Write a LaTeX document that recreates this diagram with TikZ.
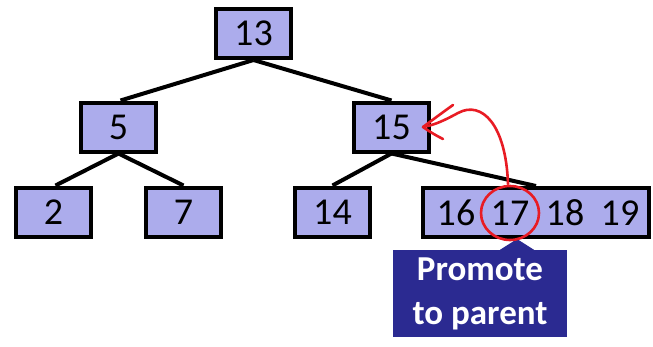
\documentclass[tikz,border=0pt]{standalone}
\usepackage{fontspec}
\setmainfont{Carlito}
\usetikzlibrary{calc}
\definecolor{keyfill}{RGB}{172,172,236}
\definecolor{calloutblue}{RGB}{43,42,145}
\definecolor{markred}{RGB}{232,28,36}
\pgfdeclarelayer{edges}
\pgfsetlayers{edges,main}
\begin{document}
\begin{tikzpicture}[x=1pt,y=-1pt,
  keybox/.style={draw=black,line width=4pt,fill=keyfill,minimum width=75pt,minimum height=49pt,inner sep=0pt,
    font=\fontsize{38}{40}\selectfont},
  keytext/.style={inner sep=0pt,font=\fontsize{38}{40}\selectfont},
  edge/.style={line width=4pt,black},
  redmark/.style={draw=markred,line width=2.6pt,line cap=round,line join=round}]
\useasboundingbox (0,0) rectangle (653,346);
% tree nodes
\node[keybox] (n13) at (253.5,33.5) {13};
\node[keybox] (n5) at (118.5,127) {5};
\node[keybox] (n15) at (391.5,127) {15};
\node[keybox] (n2) at (53.5,212) {2};
\node[keybox] (n7) at (183.5,212) {7};
\node[keybox] (n14) at (332.5,212) {14};
\node[keybox,minimum width=226pt] (big) at (536,212.5) {};
\node[keytext] (k16) at (456,213) {16};
\node[keytext] (k17) at (510,213) {17};
\node[keytext] (k18) at (565,213) {18};
\node[keytext] (k19) at (620,213) {19};
% tree edges, kept behind the boxes
\begin{pgfonlayer}{edges}
\draw[edge] (n13.south) -- ([xshift=2pt]n5.north);
\draw[edge] (n13.south) -- (n15.north);
\draw[edge] (n5.south) -- ([xshift=2pt]n2.north);
\draw[edge] (n5.south) -- (n7.north);
\draw[edge] (n15.south) -- (n14.north);
\draw[edge] (n15.south) -- (big.north);
\end{pgfonlayer}
% callout
\node[fill=calloutblue,minimum width=174pt,minimum height=87pt,inner sep=0pt,text=white,align=center,
  font=\bfseries\fontsize{35}{44}\selectfont] (callout) at (480,293.5) {Promote\\to parent};
\fill[calloutblue] ([xshift=20pt]callout.north) -- (517,239) -- ([xshift=54pt]callout.north) -- cycle;
% red annotation
\draw[redmark] (k17) ellipse [x radius=29pt,y radius=27pt];
\coordinate (tip) at (423,127);
\draw[redmark] (508,184) .. controls (506,125) and (482,100) .. (458,113) .. controls (445,120) and (435,125) .. (tip);
\draw[redmark] (tip) .. controls (435,118) and (446,110) .. (453,105);
\draw[redmark] (tip) .. controls (430,132) and (437,136) .. (443,139);
\end{tikzpicture}
\end{document}
